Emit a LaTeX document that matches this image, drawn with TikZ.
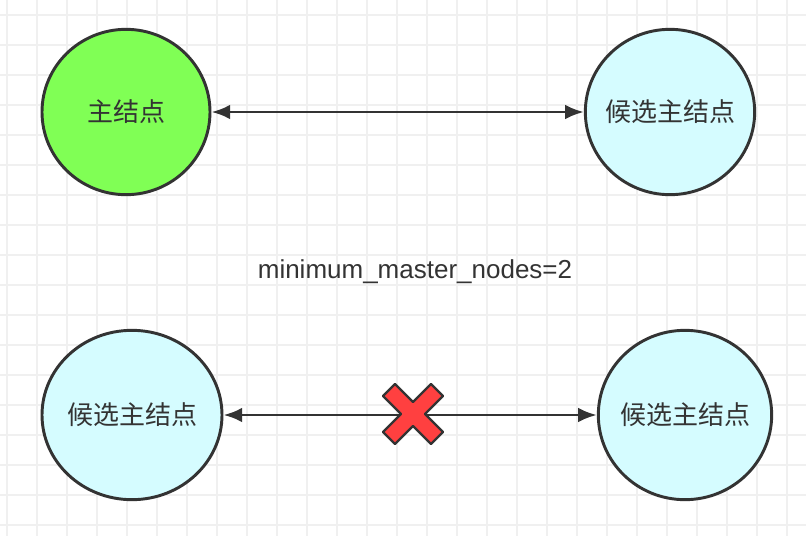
\documentclass[tikz,border=0pt]{standalone}
\usepackage{fontspec}
\setmainfont{Noto Sans CJK SC}
\newfontfamily\labelfont{Liberation Sans}
\usetikzlibrary{arrows.meta,shapes.geometric}
\definecolor{mastergreen}{HTML}{80FF55}
\definecolor{candcyan}{HTML}{D5FCFF}
\definecolor{linegray}{HTML}{333333}
\tikzset{
  node/.style={ellipse, draw=linegray, line width=2.2pt, inner xsep=-16pt, inner ysep=0pt, text=linegray, font=\fontsize{19.5}{22}\selectfont},
  link/.style={{Latex[length=14pt,width=11pt]}-{Latex[length=14pt,width=11pt]}, draw=linegray, line width=2.2pt},
}
\begin{document}
\begin{tikzpicture}[x=0.75pt,y=-0.75pt]
  \useasboundingbox (0,0) rectangle (806,536);
  \fill[white] (0,0) rectangle (806,536);
  % grid
  \foreach \x in {7,37,...,806} \draw[black!6, line width=0.8pt] (\x,0) -- (\x,536);
  \foreach \y in {15,45,...,536} \draw[black!6, line width=0.8pt] (0,\y) -- (806,\y);
  \node[node, fill=mastergreen, minimum width=126pt, minimum height=124pt] (M) at (126,112) {主结点};
  \node[node, fill=candcyan, minimum width=127pt, minimum height=124pt] (C1) at (670,112) {候选主结点};
  \node[node, fill=candcyan, minimum width=135pt, minimum height=127pt] (C2) at (132,415) {候选主结点};
  \node[node, fill=candcyan, minimum width=130pt, minimum height=127pt] (C3) at (685,415) {候选主结点};
  \node[font=\labelfont\fontsize{19.5}{22}\selectfont, text=linegray] (label) at (415,272) {minimum\_master\_nodes=2};
  \path[link] (M) -- (C1);
  \path[link] (C2) -- (C3);
  % cross
  \coordinate (X) at (413,414);
  \begin{scope}[shift={(X)}]
    \filldraw[fill=red!75!white, draw=linegray, line width=1.8pt, line join=round]
      (-30,-18) -- (-18,-30) -- (0,-12) -- (18,-30) -- (30,-18) -- (12,0)
      -- (30,18) -- (18,30) -- (0,12) -- (-18,30) -- (-30,18) -- (-12,0) -- cycle;
  \end{scope}
\end{tikzpicture}
\end{document}
